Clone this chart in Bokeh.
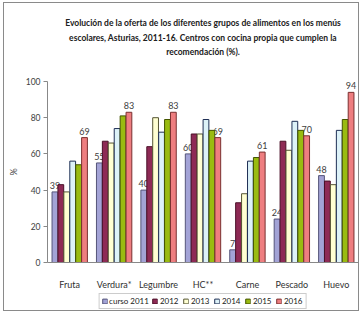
from bokeh.plotting import figure
from bokeh.layouts import column
from bokeh.models import Legend, LegendItem, Title, Range1d, FactorRange, ColumnDataSource
from bokeh.transform import dodge
from bokeh.core.properties import value
from bokeh.embed import file_html
from bokeh.resources import INLINE

categories = ["Fruta", "Verdura*", "Legumbre", "HC**", "Carne", "Pescado", "Huevo"]
series_names = ["curso 2011", "2012", "2013", "2014", "2015", "2016"]
v2011 = [39, 55, 40, 60, 7, 24, 48]
v2012 = [43, 67, 64, 71, 33, 67, 45]
v2013 = [39, 66, 80, 71, 38, 62, 43]
v2014 = [56, 74, 72, 79, 56, 78, 73]
v2015 = [54, 81, 79, 73, 58, 73, 79]
v2016 = [69, 83, 83, 69, 61, 70, 94]
series_values = [v2011, v2012, v2013, v2014, v2015, v2016]
title_text = ("Evolución de la oferta de los diferentes grupos de alimentos en los menús\n"
              "escolares, Asturias, 2011-16. Centros con cocina propia que cumplen la\n"
              "recomendación (%).\n ")

fills = ["#A3A3D6", "#8E2A55", "#FFFFD2", "#DDF2F8", "#99BB11", "#EE7E80"]
lines = ["#55557A", "#4A1028", "#555533", "#1F2F55", "#445500", "#7A3030"]
offsets = [-0.333, -0.2, -0.067, 0.067, 0.2, 0.333]
bw = 0.13
FONT = "Lato"

data = {"cat": categories}
for i, vals in enumerate(series_values):
    data["s%d" % i] = vals
    data["l%d" % i] = [str(v) for v in vals]
source = ColumnDataSource(data)

p = figure(width=354, height=289, x_range=FactorRange(*categories), y_range=Range1d(0, 100),
           output_backend="svg", toolbar_location=None,
           min_border_left=38, min_border_right=0, min_border_top=78, min_border_bottom=27)
p.x_range.range_padding = 0
p.xgrid.visible = False
p.ygrid.visible = False
p.outline_line_color = None

# value labels (under the bars, as in the reference)
for i in (0, 5):
    p.text(x=dodge("cat", offsets[i], range=p.x_range), y="s%d" % i, text="l%d" % i,
           source=source, text_align="center", text_baseline="bottom", y_offset=-3,
           text_font=value(FONT), text_font_size="9px", text_color="#404040")

for i, name in enumerate(series_names):
    p.vbar(x=dodge("cat", offsets[i], range=p.x_range), top="s%d" % i, width=bw,
           source=source, fill_color=fills[i], line_color=lines[i], line_width=1)

p.add_layout(Title(text=title_text, align="center", text_align="center",
                   text_font=FONT, text_font_size="8.5px", offset=-20,
                   text_font_style="bold", text_color="#202020", text_line_height=1.46,
                   standoff=19), "above")

p.yaxis.ticker = [0, 20, 40, 60, 80, 100]
p.yaxis.axis_label = "%"
p.yaxis.axis_label_text_font = FONT
p.yaxis.axis_label_text_font_style = "normal"
p.yaxis.axis_label_text_font_size = "9px"
p.yaxis.axis_label_standoff = 4
p.yaxis.major_label_text_font = FONT
p.yaxis.major_label_text_font_size = "8.5px"
p.yaxis.major_label_text_color = "#404040"
p.yaxis.major_label_standoff = 3
p.yaxis.major_tick_out = 4
p.yaxis.major_tick_in = 0
p.yaxis.minor_tick_out = 0
p.yaxis.minor_tick_in = 0
p.yaxis.axis_line_color = "#888888"
p.yaxis.major_tick_line_color = "#888888"

p.xaxis.major_label_text_font = FONT
p.xaxis.major_label_text_font_size = "9px"
p.xaxis.major_label_text_color = "#303030"
p.xaxis.major_label_standoff = 10
p.xaxis.axis_line_color = "#888888"
p.xaxis.major_tick_line_color = None

# legend strip: a second figure whose frame only shows the legend
lg = figure(width=354, height=18, x_range=FactorRange(*categories), y_range=Range1d(200, 218),
            output_backend="svg", toolbar_location=None,
            x_axis_location=None, y_axis_location=None,
            min_border_left=38, min_border_right=0, min_border_top=0, min_border_bottom=0)
lg.xgrid.visible = False
lg.ygrid.visible = False
lg.outline_line_color = None
items = []
for i, name in enumerate(series_names):
    r = lg.vbar(x=dodge("cat", offsets[i], range=lg.x_range), top="s%d" % i, width=bw,
                source=source, fill_color=fills[i], line_color=lines[i], line_width=1)
    items.append(LegendItem(label=name, renderers=[r]))
legend = Legend(items=items, orientation="horizontal", location="bottom_center",
                label_text_font=FONT, label_text_font_size="8px", label_text_color="#202020",
                glyph_width=6, glyph_height=6, label_standoff=2, spacing=3, padding=2,
                margin=1, border_line_color="#999999", background_fill_alpha=1,
                label_height=9)
lg.add_layout(legend, "center")

layout = column(p, lg, spacing=0, margin=(2, 3, 3, 3),
                styles={"border": "1px solid #8a8a8a"})
open("out.html", "w").write(file_html(layout, INLINE))
